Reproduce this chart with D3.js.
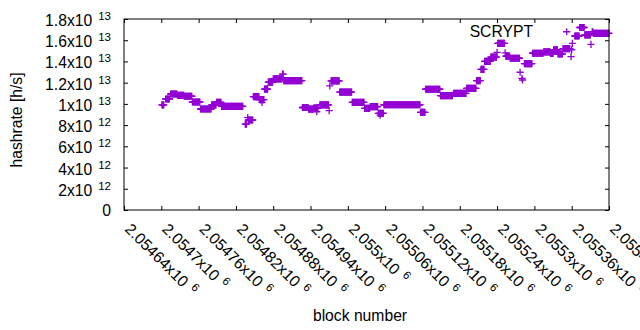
<!DOCTYPE html>
<html><head><meta charset="utf-8">
<script src="https://cdn.jsdelivr.net/npm/d3@7"></script>
<style>
body{margin:0;background:#fff}
text{font-family:"Liberation Sans",Arial,Helvetica,sans-serif;fill:#000}
</style>
</head><body>
<svg id="chart" width="640" height="330"></svg>
<script>
// Runs of blocks with constant estimated hashrate (value in units of 1e12 h/s)
const runStart = [2054701,2054707,2054715,2054726,2054737,2054750,2054763,2054781,2054789,2054797,
  2054835,2054839,2054840,2054848,2054858,2054862,2054866,2054872,2054880,2054895,
  2054897,2054927,2054937,2054945,2054950,2054955,2054970,2054971,2054973,2054987,
  2055007,2055027,2055036,2055049,2055052,2055058,2055117,2055125,2055149,2055170,
  2055191,2055207,2055214,2055220,2055230,2055240,2055241,2055253,2055254,2055261,
  2055277,2055280,2055281,2055284,2055297,2055315,2055326,2055331,2055338,2055346,
  2055352,2055359,2055360,2055361,2055365,2055373,2055381,2055391,2055393,2055395];
const runEnd = [2054704,2054713,2054725,2054736,2054749,2054762,2054780,2054788,2054796,2054831,
  2054837,2054839,2054847,2054857,2054865,2054862,2054871,2054879,2054894,2054896,
  2054926,2054936,2054944,2054952,2054950,2054969,2054970,2054971,2054986,2055006,
  2055026,2055035,2055048,2055057,2055052,2055116,2055124,2055148,2055168,2055190,
  2055206,2055213,2055219,2055229,2055239,2055240,2055252,2055253,2055260,2055276,
  2055277,2055280,2055281,2055296,2055314,2055325,2055330,2055337,2055345,2055357,
  2055352,2055359,2055360,2055361,2055372,2055380,2055390,2055391,2055394,2055420];
const runValue = [9.9,10.46,10.93,10.81,10.72,10.18,9.52,9.9,10.15,9.77,
  8.1,8.7,8.48,10.68,10.41,10.15,11.4,12.06,12.35,12.8,
  12.2,9.66,9.5,9.6,9.26,9.9,9.36,11.7,12.16,11.1,
  10.15,9.58,9.74,9.1,8.95,9.92,9.2,11.38,10.77,11.0,
  11.47,12.2,13.26,14.0,14.4,14.86,15.7,14.8,14.5,14.3,
  12.98,12.4,12.25,13.8,14.77,14.9,14.75,15.1,14.7,15.2,
  16.8,14.45,15.1,15.7,16.4,17.2,16.5,15.6,16.8,16.65];
const valueUnit = 1e12;

const xTickValues = [2054640,2054700,2054760,2054820,2054880,2054940,2055000,2055060,
  2055120,2055180,2055240,2055300,2055360,2055420];
const yTickValues = [0,2e12,4e12,6e12,8e12,1e13,1.2e13,1.4e13,1.6e13,1.8e13];
const seriesName = "SCRYPT";
const xTitle = "block number";
const yTitle = "hashrate [h/s]";

const L = 124, R = 609, T = 19, B = 210;
const color = "#9400d3";
const fs = "15.7px", fsSup = "11.5px";

const svg = d3.select("#chart");
const x = d3.scaleLinear().domain([2054640, 2055420]).range([L, R]);
const y = d3.scaleLinear().domain([0, 1.8e13]).range([B, T]);

function sci(v) {
  if (v === 0) return ["0", null];
  const e = Math.floor(Math.log10(v) + 1e-9);
  const m = parseFloat((v / Math.pow(10, e)).toPrecision(10));
  return [m + "x10", String(e)];
}

// points
const points = [];
runStart.forEach((s, i) => {
  d3.range(s, runEnd[i] + 1).forEach(b => points.push({b, v: runValue[i] * valueUnit}));
});

const h = 3.6;
svg.append("g").selectAll("path").data(points).join("path")
  .attr("d", d => {
    const px = x(d.b), py = y(d.v);
    return `M${px - h},${py}H${px + h}M${px},${py - h}V${py + h}`;
  })
  .attr("stroke", color).attr("stroke-width", 1.3).attr("fill", "none");

// frame
svg.append("rect").attr("x", L).attr("y", T).attr("width", R - L).attr("height", B - T)
  .attr("fill", "none").attr("stroke", "#000").attr("stroke-width", 1);

// axes with inward ticks (mirrored)
const tk = 4;
const xAxisB = d3.axisBottom(x).tickValues(xTickValues).tickSize(-tk).tickFormat("");
const xAxisT = d3.axisTop(x).tickValues(xTickValues).tickSize(-tk).tickFormat("");
const yAxisL = d3.axisLeft(y).tickValues(yTickValues).tickSize(-tk).tickFormat("");
const yAxisR = d3.axisRight(y).tickValues(yTickValues).tickSize(-tk).tickFormat("");
[[xAxisB, `translate(0,${B})`], [xAxisT, `translate(0,${T})`],
 [yAxisL, `translate(${L},0)`], [yAxisR, `translate(${R},0)`]].forEach(([ax, tr]) => {
  const g = svg.append("g").attr("transform", tr).call(ax);
  g.select(".domain").remove();
  g.selectAll("line").attr("stroke", "#000");
});

// y tick labels
yTickValues.forEach(v => {
  const [m, e] = sci(v);
  const t = svg.append("text").attr("x", 111).attr("y", y(v) + (e ? 7 : 5.5))
    .attr("text-anchor", "end").style("font-size", fs);
  t.append("tspan").text(m);
  if (e) t.append("tspan").attr("dx", 6).attr("dy", -6).style("font-size", fsSup).text(e);
});

// x tick labels rotated
xTickValues.forEach(v => {
  const [m, e] = sci(v);
  const g = svg.append("g").attr("transform", `translate(${x(v)},230) rotate(45)`);
  const t = g.append("text").attr("x", 0).attr("y", 0).style("font-size", fs);
  t.append("tspan").text(m);
  if (e) t.append("tspan").attr("dx", 6).attr("dy", -6).style("font-size", fsSup).text(e);
});

// titles
svg.append("text").attr("x", 360).attr("y", 321).attr("text-anchor", "middle")
  .style("font-size", fs).text(xTitle);
svg.append("text").attr("transform", "translate(22,120) rotate(-90)").attr("text-anchor", "middle")
  .style("font-size", fs).text(yTitle);

// key label
svg.append("text").attr("x", 533).attr("y", 37).attr("text-anchor", "end")
  .style("font-size", fs).text(seriesName);
</script>
</body></html>
